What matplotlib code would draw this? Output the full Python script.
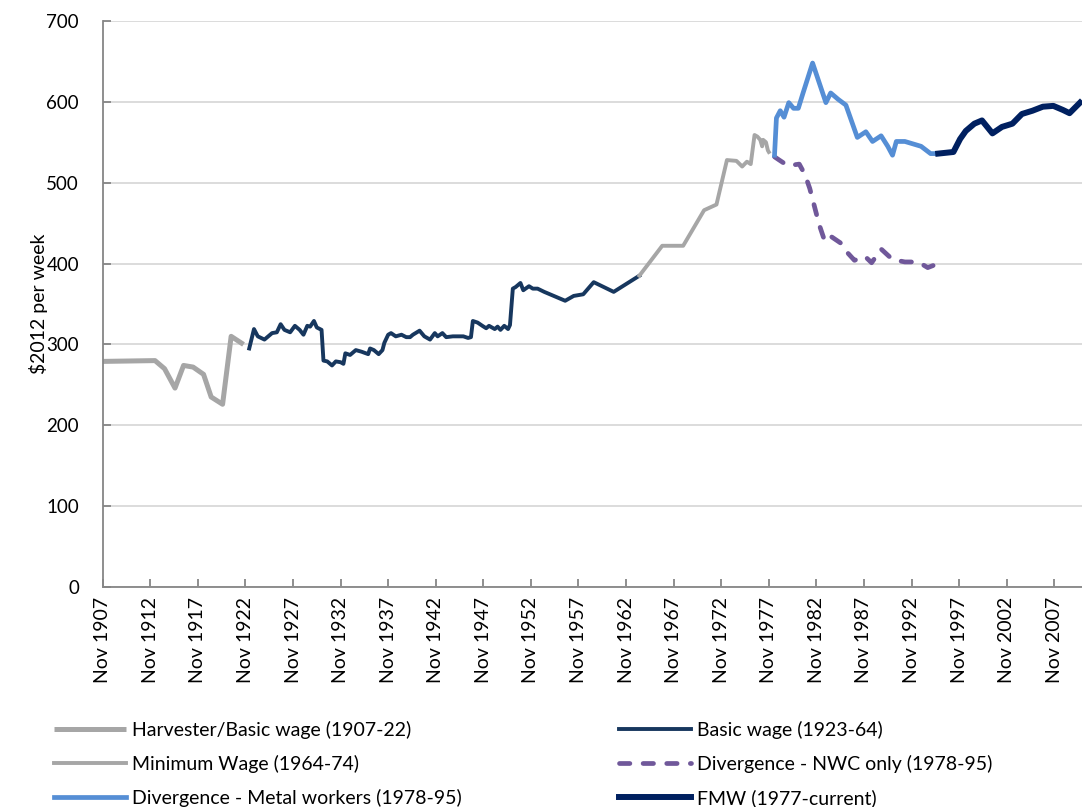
import numpy as np
import matplotlib
matplotlib.use('Agg')
import matplotlib.pyplot as plt

plt.rcParams['font.family'] = ['Lato', 'DejaVu Sans']

# --- data ($2012 per week) ---
harvester_years = [1907.0, 1912.5, 1913.5, 1914.6, 1915.5, 1916.5, 1917.6, 1918.4,
                   1919.6, 1920.5, 1921.8]
harvester_vals = [279, 280, 270, 246, 274, 272, 263, 235, 226, 310, 300]

basic_years = [1922.4, 1922.9, 1923.3, 1924.0, 1924.8, 1925.3, 1925.7, 1926.1, 1926.7,
               1927.2, 1927.7, 1928.1, 1928.5, 1928.8, 1929.2, 1929.5, 1930.0, 1930.2,
               1930.6, 1931.1, 1931.5, 1932.0, 1932.3, 1932.5, 1933.0, 1933.6, 1934.2,
               1934.9, 1935.1, 1935.5, 1936.0, 1936.4, 1936.6, 1937.0, 1937.3, 1937.8,
               1938.4, 1938.9, 1939.3, 1939.6, 1940.3, 1940.8, 1941.4, 1941.9, 1942.2,
               1942.7, 1943.1, 1943.8, 1944.9, 1945.4, 1945.7, 1945.9, 1946.4, 1946.9,
               1947.3, 1947.6, 1948.2, 1948.5, 1948.8, 1949.2, 1949.6, 1949.8, 1950.1,
               1950.4, 1950.9, 1951.2, 1951.8, 1952.2, 1952.7, 1953.4, 1954.0, 1955.6,
               1956.5, 1957.5, 1958.6, 1960.7, 1963.4]
basic_vals = [295, 319, 310, 306, 314, 315, 325, 318, 315,
              323, 318, 312, 323, 322, 329, 321, 318, 280,
              279, 274, 279, 278, 276, 289, 287, 293, 291,
              288, 295, 293, 288, 293, 302, 312, 314, 310,
              312, 309, 309, 312, 317, 310, 306, 314, 310,
              314, 309, 310, 310, 308, 309, 329, 327, 323,
              320, 323, 319, 322, 318, 323, 319, 324, 369,
              371, 376, 367, 372, 369, 369, 365, 362, 354,
              360, 362, 377, 365, 385]

minwage_years = [1963.4, 1965.8, 1968.0, 1970.2, 1971.5, 1972.6, 1973.6, 1974.2, 1974.7,
                 1975.1, 1975.5, 1975.8, 1976.1, 1976.3, 1976.4, 1976.7, 1976.9, 1977.0]
minwage_vals = [385, 422, 422, 466, 473, 528, 527, 520, 526,
                523, 559, 557, 553, 545, 553, 550, 540, 538]

metal_years = [1977.6, 1977.8, 1978.2, 1978.6, 1979.1, 1979.6, 1980.1, 1980.6, 1981.6,
               1983.0, 1983.5, 1984.3, 1985.1, 1986.3, 1987.2, 1987.9, 1988.8, 1989.5,
               1990.0, 1990.4, 1991.3, 1993.0, 1994.0, 1994.7]
metal_vals = [534, 580, 589, 581, 599, 592, 592, 611, 648,
              599, 611, 603, 596, 556, 563, 551, 558, 545,
              534, 551, 551, 545, 536, 536]

nwc_years = [1977.6, 1978.1, 1979.0, 1980.2, 1980.8, 1981.3, 1982.3, 1982.9, 1983.6,
             1984.6, 1985.3, 1986.0, 1987.1, 1987.8, 1988.8, 1990.0, 1991.3, 1992.7,
             1993.7, 1994.8]
nwc_vals = [532, 528, 521, 523, 510, 493, 448, 427, 433,
            425, 413, 404, 409, 401, 418, 405, 402, 402,
            395, 400]

fmw_years = [1994.8, 1996.4, 1997.1, 1997.7, 1998.6, 1999.4, 2000.5, 2001.5, 2002.6,
             2003.6, 2004.7, 2005.8, 2006.9, 2007.9, 2008.6, 2009.7]
fmw_vals = [536, 538, 554, 564, 573, 577, 561, 569, 573,
            585, 589, 594, 595, 590, 586, 599]

tick_years = list(range(1907, 2008, 5))
tick_labels = ['Nov %d' % y for y in tick_years]

fig = plt.figure(figsize=(10.82, 8.07), dpi=100)
ax = fig.add_axes([0.0949, 0.2726, 0.905, 0.7014])

GRAY = '#A6A6A6'
l_harv, = ax.plot(harvester_years, harvester_vals, color=GRAY, lw=3.6,
                  solid_joinstyle='round', solid_capstyle='butt')
l_basic, = ax.plot(basic_years, basic_vals, color='#17375E', lw=2.8,
                   solid_joinstyle='round')
l_min, = ax.plot(minwage_years, minwage_vals, color=GRAY, lw=2.8,
                 solid_joinstyle='round')
l_nwc, = ax.plot(nwc_years, nwc_vals, color='#70589A', lw=3.4,
                 dashes=(2.2, 2.8), dash_capstyle='round')
l_metal, = ax.plot(metal_years, metal_vals, color='#558ED5', lw=3.4,
                   solid_joinstyle='round')
l_fmw, = ax.plot(fmw_years, fmw_vals, color='#002060', lw=4.3,
                 solid_joinstyle='round')

ax.set_xlim(1907, 2009.9)
ax.set_ylim(0, 700)
ax.set_yticks(range(0, 701, 100))
ax.set_xticks(tick_years)
ax.set_xticklabels(tick_labels, rotation=90)
ax.grid(axis='y', color='#D9D9D9', lw=1.3)
ax.set_axisbelow(True)
for s in ['top', 'right']:
    ax.spines[s].set_visible(False)
for s in ['left', 'bottom']:
    ax.spines[s].set_color('#868686')
    ax.spines[s].set_linewidth(1.3)
ax.tick_params(axis='y', direction='in', length=6, width=1.3, color='#868686',
               labelsize=13.5, pad=17)
ax.tick_params(axis='x', direction='in', length=6, width=1.3, color='#868686',
               labelsize=14, pad=7)
ax.set_ylabel(r'\$2012 per week', fontsize=14)
ax.yaxis.set_label_coords(-0.056, 0.5)

leg_kw = dict(frameon=False, fontsize=14, handlelength=3.7, handletextpad=0.3,
              labelspacing=0.82, borderaxespad=0, borderpad=0, loc='upper left')
fig.legend([l_harv, l_min, l_metal],
           ['Harvester/Basic wage (1907-22)', 'Minimum Wage (1964-74)',
            'Divergence - Metal workers (1978-95)'],
           bbox_to_anchor=(0.050, 0.1066), **leg_kw)
fig.legend([l_basic, l_nwc, l_fmw],
           ['Basic wage (1923-64)', 'Divergence - NWC only (1978-95)',
            'FMW (1977-current)'],
           bbox_to_anchor=(0.5725, 0.1066), **leg_kw)

fig.savefig('out.png', dpi=100)
